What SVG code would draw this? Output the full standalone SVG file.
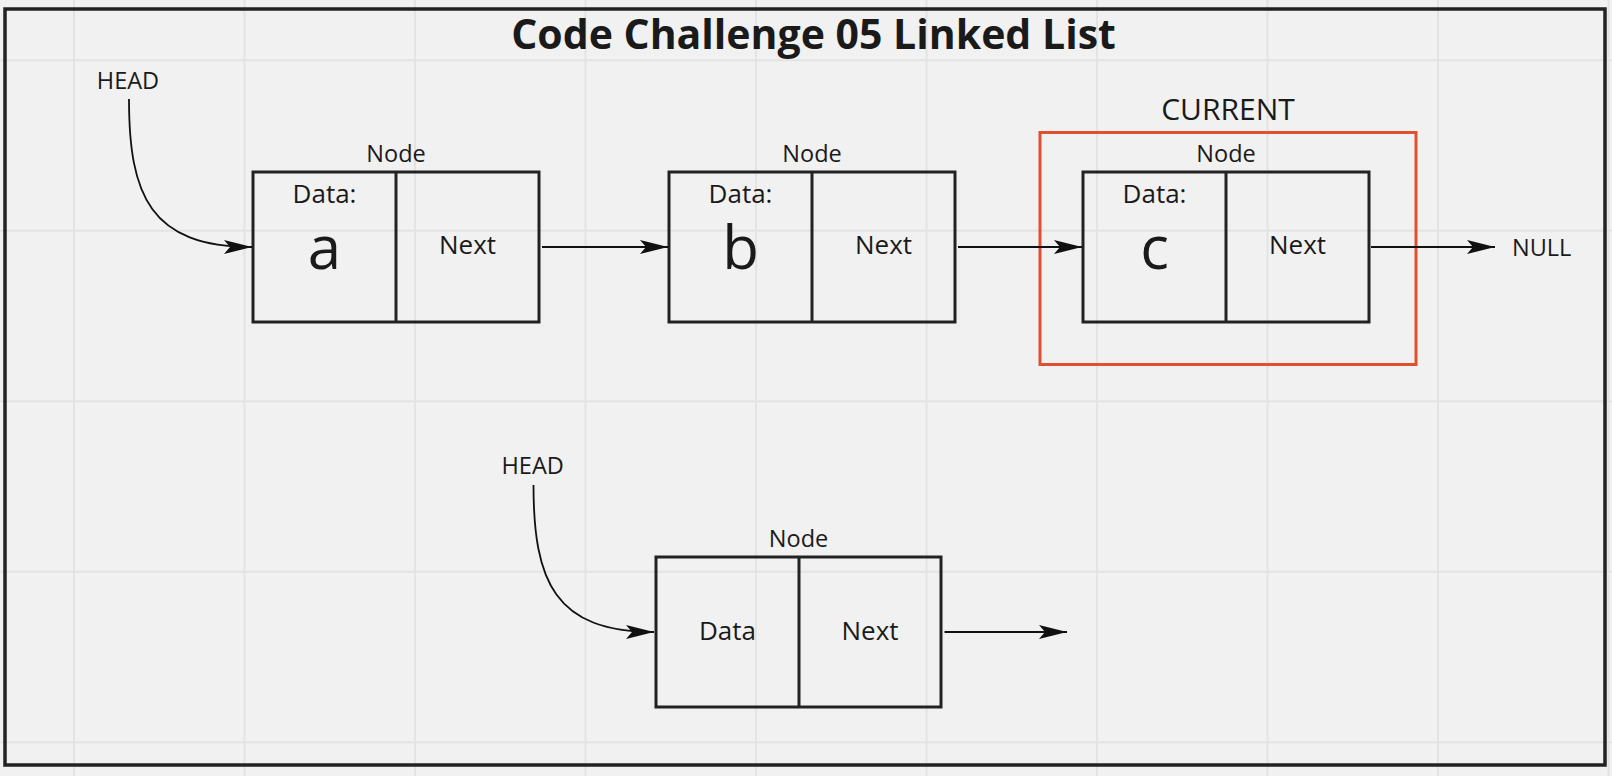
<svg xmlns="http://www.w3.org/2000/svg" width="1612" height="776" viewBox="0 0 1612 776">
<style>
.grid line{stroke:#e3e3e3;stroke-width:2}
.box{fill:none;stroke:#222;stroke-width:3}
.div{stroke:#222;stroke-width:3}
text{font-family:"Open Sans","Noto Sans","Liberation Sans",sans-serif;fill:#1a1a1a}
.lbl{font-size:23.5px;text-anchor:middle}
.data{font-size:26px;text-anchor:middle}
.val{font-size:60px;text-anchor:middle}
.conn path{fill:none;stroke:#111;stroke-width:1.8}
</style>
<defs>
<marker id="arr" markerUnits="userSpaceOnUse" viewBox="0 0 28 14" markerWidth="28" markerHeight="14" refX="28" refY="7" orient="auto">
<path d="M0,0 L28,7 L0,14 L6,7 z" fill="#111"/>
</marker>
</defs>
<rect width="1612" height="776" fill="#f1f1f1"/>
<g class="grid">
<line x1="74" y1="0" x2="74" y2="776"/>
<line x1="244.5" y1="0" x2="244.5" y2="776"/>
<line x1="415" y1="0" x2="415" y2="776"/>
<line x1="585.5" y1="0" x2="585.5" y2="776"/>
<line x1="756" y1="0" x2="756" y2="776"/>
<line x1="926.5" y1="0" x2="926.5" y2="776"/>
<line x1="1097" y1="0" x2="1097" y2="776"/>
<line x1="1267.5" y1="0" x2="1267.5" y2="776"/>
<line x1="1438" y1="0" x2="1438" y2="776"/>
<line x1="1608.5" y1="0" x2="1608.5" y2="776"/>
<line x1="0" y1="60.2" x2="1612" y2="60.2"/>
<line x1="0" y1="230.7" x2="1612" y2="230.7"/>
<line x1="0" y1="401.2" x2="1612" y2="401.2"/>
<line x1="0" y1="571.7" x2="1612" y2="571.7"/>
<line x1="0" y1="742.2" x2="1612" y2="742.2"/>
</g>
<rect id="frame" x="5" y="9" width="1600" height="756" fill="none" stroke="#222" stroke-width="3.5"/>
<text id="title" x="813.5" y="49" font-size="41" font-weight="700" text-anchor="middle">Code Challenge 05 Linked List</text>
<g id="current">
<rect x="1040" y="132.5" width="376" height="232" fill="none" stroke="#e0502f" stroke-width="3"/>
<text x="1228" y="120" font-size="30" text-anchor="middle">CURRENT</text>
</g>
<g id="head1"><text class="lbl" x="128" y="89">HEAD</text></g>
<g id="nodeA">
<text class="lbl" x="396" y="162">Node</text>
<rect class="box" x="253" y="172" width="286" height="150"/>
<line class="div" x1="396" y1="172" x2="396" y2="322"/>
<text class="data" x="324.5" y="203">Data:</text>
<text class="val" x="324.5" y="269">a</text>
<text class="data" x="467.5" y="254">Next</text>
</g>
<g id="nodeB">
<text class="lbl" x="812" y="162">Node</text>
<rect class="box" x="669" y="172" width="286" height="150"/>
<line class="div" x1="812" y1="172" x2="812" y2="322"/>
<text class="data" x="740.5" y="203">Data:</text>
<text class="val" x="740.5" y="269">b</text>
<text class="data" x="883.5" y="254">Next</text>
</g>
<g id="nodeC">
<text class="lbl" x="1226" y="162">Node</text>
<rect class="box" x="1083" y="172" width="286" height="150"/>
<line class="div" x1="1226" y1="172" x2="1226" y2="322"/>
<text class="data" x="1154.5" y="203">Data:</text>
<text class="val" x="1154.5" y="269">c</text>
<text class="data" x="1297.5" y="254">Next</text>
</g>
<g id="null"><text x="1512" y="256" font-size="23.5">NULL</text></g>
<g id="head2"><text class="lbl" x="532.7" y="474">HEAD</text></g>
<g id="nodeD">
<text class="lbl" x="798.5" y="547">Node</text>
<rect class="box" x="656" y="557" width="285" height="150"/>
<line class="div" x1="799" y1="557" x2="799" y2="707"/>
<text class="data" x="727.5" y="639.5">Data</text>
<text class="data" x="870" y="639.5">Next</text>
</g>
<g class="conn" id="connectors">
<path d="M129,99 C129,195 150,247 252,247" marker-end="url(#arr)"/>
<path d="M542,247 L668,247" marker-end="url(#arr)"/>
<path d="M958,247 L1082,247" marker-end="url(#arr)"/>
<path d="M1371,247 L1495,247" marker-end="url(#arr)"/>
<path d="M533.5,485 C533.5,581 554.5,632 654,632" marker-end="url(#arr)"/>
<path d="M944.5,632 L1067,632" marker-end="url(#arr)"/>
</g>
</svg>
